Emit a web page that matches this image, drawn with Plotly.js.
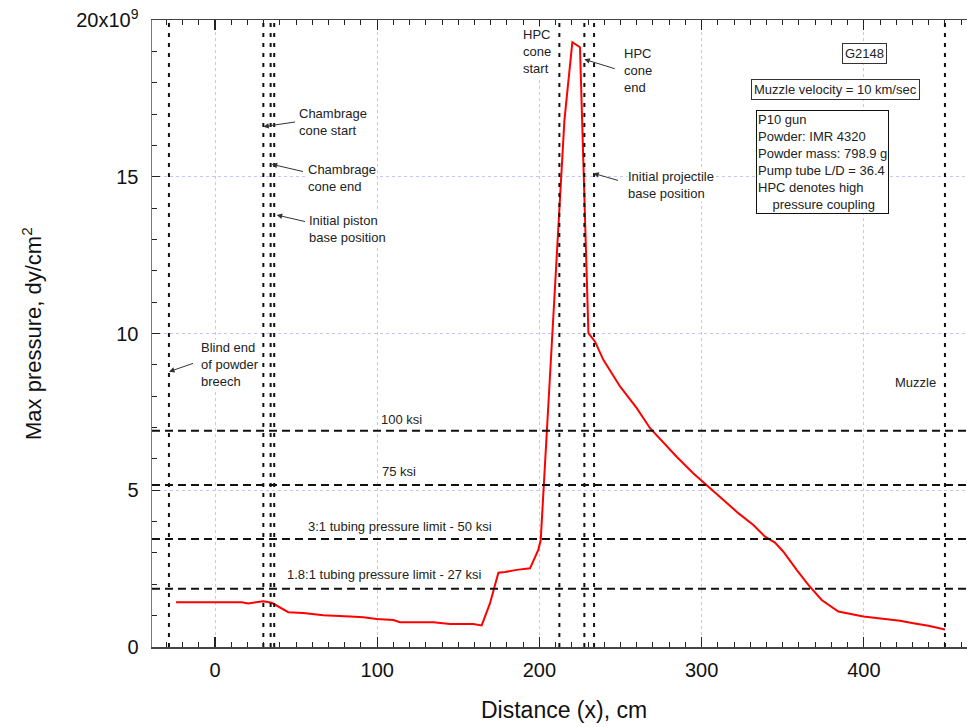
<!DOCTYPE html>
<html>
<head>
<meta charset="utf-8">
<script src="https://cdn.plot.ly/plotly-3.0.1.min.js"></script>
<style>html,body{margin:0;padding:0;background:#fff;}#chart{width:967px;height:727px;}</style>
</head>
<body>
<div id="chart"></div>
<script>
// ---- data (pressure in units of 1e9 dyn/cm^2) ----
const distance = [-24, 16.4, 20.6, 29.8, 35, 39, 45.2, 54.4, 66.8, 83.2, 91.4, 99.7, 110, 114, 134.6, 144.9, 159.2, 164.4, 169.5, 174.7, 178.8, 186, 194.2, 199.3, 200.8, 215.4, 220.3, 225, 230.2, 234.3, 239.4, 249.7, 260, 268.2, 284.6, 294.8, 303.1, 311.3, 315.5, 322.6, 331.9, 339.1, 345.2, 350.4, 358.6, 365.8, 374, 384.3, 399.7, 422.3, 430.5, 439.8, 450];
const maxPressure = [1.43, 1.43, 1.39, 1.46, 1.41, 1.29, 1.11, 1.085, 1.01, 0.97, 0.95, 0.89, 0.86, 0.79, 0.79, 0.73, 0.73, 0.69, 1.39, 2.37, 2.39, 2.46, 2.51, 3.1, 3.41, 16.8, 19.29, 19.13, 10.01, 9.74, 9.16, 8.31, 7.62, 6.98, 6.07, 5.54, 5.17, 4.80, 4.59, 4.27, 3.89, 3.52, 3.33, 3.04, 2.46, 1.98, 1.50, 1.13, 0.97, 0.84, 0.76, 0.68, 0.56];

const limitPressures = [6.895, 5.171, 3.447, 1.862];          // 100, 75, 50, 27 ksi
const limitLabels = ['100 ksi', '75 ksi', '3:1 tubing pressure limit - 50 ksi', '1.8:1 tubing pressure limit - 27 ksi'];

const markerPositions = [-28.4, 29.8, 34.3, 36.5, 212.3, 227.7, 233.7, 450];

const xTickVals = [0, 100, 200, 300, 400];
const yTickVals = [0, 5, 10, 15, 20];
const yTickText = ['0', '5', '10', '15', '20x10<sup>9</sup>'];

// ---- layout helpers (pixel -> paper) ----
const W = 967, H = 727, L = 152, R = 0, T = 20, B = 80;
const PW = W - L - R, PH = H - T - B;
const px = v => (v - L) / PW;
const py = v => (H - B - v) / PH;
const FONT = 'Liberation Sans, Arial, Helvetica, sans-serif';
const FS = 13;

const shapes = [];
markerPositions.forEach(xv => shapes.push({
  type: 'line', xref: 'x', yref: 'paper', x0: xv, x1: xv, y0: 0, y1: 1,
  line: {color: '#111', width: 2, dash: '4px,6px'}
}));
limitPressures.forEach(yv => shapes.push({
  type: 'line', xref: 'paper', yref: 'y', x0: 0, x1: 1, y0: yv, y1: yv,
  line: {color: '#111', width: 2, dash: '8px,5px'}
}));

const ann = [];
function txt(text, left, top, opts) {
  ann.push(Object.assign({
    text: text, xref: 'paper', yref: 'paper', x: px(left), y: py(top),
    xanchor: 'left', yanchor: 'top', showarrow: false, align: 'left',
    font: {family: FONT, size: FS, color: '#222'}, bgcolor: 'rgba(255,255,255,1)', borderpad: 0
  }, opts || {}));
}
function arrow(hx, hy, tx, ty) {
  ann.push({
    text: '\u00a0', xref: 'paper', yref: 'paper', x: px(hx), y: py(hy),
    ax: tx - hx, ay: ty - hy, showarrow: true, arrowhead: 2, arrowsize: 1.1,
    arrowwidth: 1, arrowcolor: '#333', standoff: 0, startstandoff: 0,
    font: {family: FONT, size: 2, color: 'rgba(0,0,0,0)'}
  });
}

txt('Chambrage<br>cone start', 298, 105);
arrow(263.3, 126.7, 297, 121.7);
txt('Chambrage<br>cone end', 306.7, 161);
arrow(271.7, 164.3, 305, 172);
txt('Initial piston<br>base position', 308, 212);
arrow(276.7, 215, 307, 222);
txt('Blind end<br>of powder<br>breech', 200, 339);
arrow(169, 371.7, 195, 362.7);
txt('HPC<br>cone<br>start', 522, 25.5);
txt('HPC<br>cone<br>end', 623.3, 44.5);
arrow(584.3, 59.3, 616.7, 69.3);
txt('Initial projectile<br>base position', 626.7, 168);
arrow(593.3, 173.3, 620, 181);

txt(limitLabels[0], 380, 419, {yanchor: 'middle', bgcolor: 'rgba(0,0,0,0)'});
txt(limitLabels[1], 380.7, 471, {yanchor: 'middle', bgcolor: 'rgba(0,0,0,0)'});
txt(limitLabels[2], 306.7, 526.7, {yanchor: 'middle', bgcolor: 'rgba(0,0,0,0)'});
txt(limitLabels[3], 286, 574, {yanchor: 'middle', bgcolor: 'rgba(0,0,0,0)'});
txt('Muzzle', 937.3, 382.3, {xanchor: 'right', yanchor: 'middle'});

txt('G2148', 864, 53, {xanchor: 'center', yanchor: 'middle', bordercolor: '#333', borderwidth: 1, borderpad: 2});
txt('Muzzle velocity = 10 km/sec', 835, 90, {xanchor: 'center', yanchor: 'middle', bordercolor: '#333', borderwidth: 1, borderpad: 2});
txt('P10 gun<br>Powder: IMR 4320<br>Powder mass: 798.9 g<br>Pump tube L/D = 36.4<br>HPC denotes high<br>\u00a0\u00a0\u00a0\u00a0pressure coupling',
    755.7, 110, {bordercolor: '#111', borderwidth: 1, borderpad: 1});

// axis titles
ann.push({text: 'Distance (x), cm', xref: 'paper', yref: 'paper', x: px(564), y: py(710),
  xanchor: 'center', yanchor: 'middle', showarrow: false, font: {family: FONT, size: 23, color: '#111'}});
ann.push({text: 'Max pressure, dy/cm<sup>2</sup>', xref: 'paper', yref: 'paper', x: px(32), y: py(333),
  xanchor: 'center', yanchor: 'middle', textangle: -90, showarrow: false, font: {family: FONT, size: 22, color: '#111'}});

const trace = {
  x: distance, y: maxPressure, type: 'scatter', mode: 'lines',
  line: {color: '#ff0000', width: 2}, hoverinfo: 'skip'
};

const layout = {
  width: W, height: H,
  margin: {l: L, r: R, t: T, b: B, pad: 0},
  paper_bgcolor: '#fff', plot_bgcolor: '#fff',
  showlegend: false,
  font: {family: FONT, color: '#111'},
  xaxis: {
    range: [-38.84, 463.6], tickmode: 'array', tickvals: xTickVals,
    ticks: 'inside', ticklen: 10, tickwidth: 1.2, tickcolor: '#222',
    minor: {dtick: 10, tick0: 0, ticks: 'inside', ticklen: 5, tickwidth: 1, tickcolor: '#222', showgrid: false},
    showline: true, linecolor: '#444', linewidth: 1.5, mirror: 'ticks',
    showgrid: true, gridcolor: '#c4c4ff', gridwidth: 1, griddash: 'dot', zeroline: false,
    tickfont: {family: FONT, size: 20, color: '#111'}, ticklabelstandoff: 4
  },
  yaxis: {
    range: [0, 20], tickmode: 'array', tickvals: yTickVals, ticktext: yTickText,
    ticks: 'inside', ticklen: 8, tickwidth: 1.2, tickcolor: '#222',
    minor: {dtick: 1, tick0: 0, ticks: 'inside', ticklen: 5, tickwidth: 1, tickcolor: '#222', showgrid: false},
    showline: true, linecolor: '#777', linewidth: 1.5, mirror: false,
    showgrid: true, gridcolor: '#c4c4ff', gridwidth: 1, griddash: 'dot', zeroline: false,
    tickfont: {family: FONT, size: 20, color: '#111'}, ticklabelstandoff: 8
  },
  shapes: shapes,
  annotations: ann
};

Plotly.newPlot('chart', [trace], layout, {displayModeBar: false, staticPlot: true});
</script>
</body>
</html>
